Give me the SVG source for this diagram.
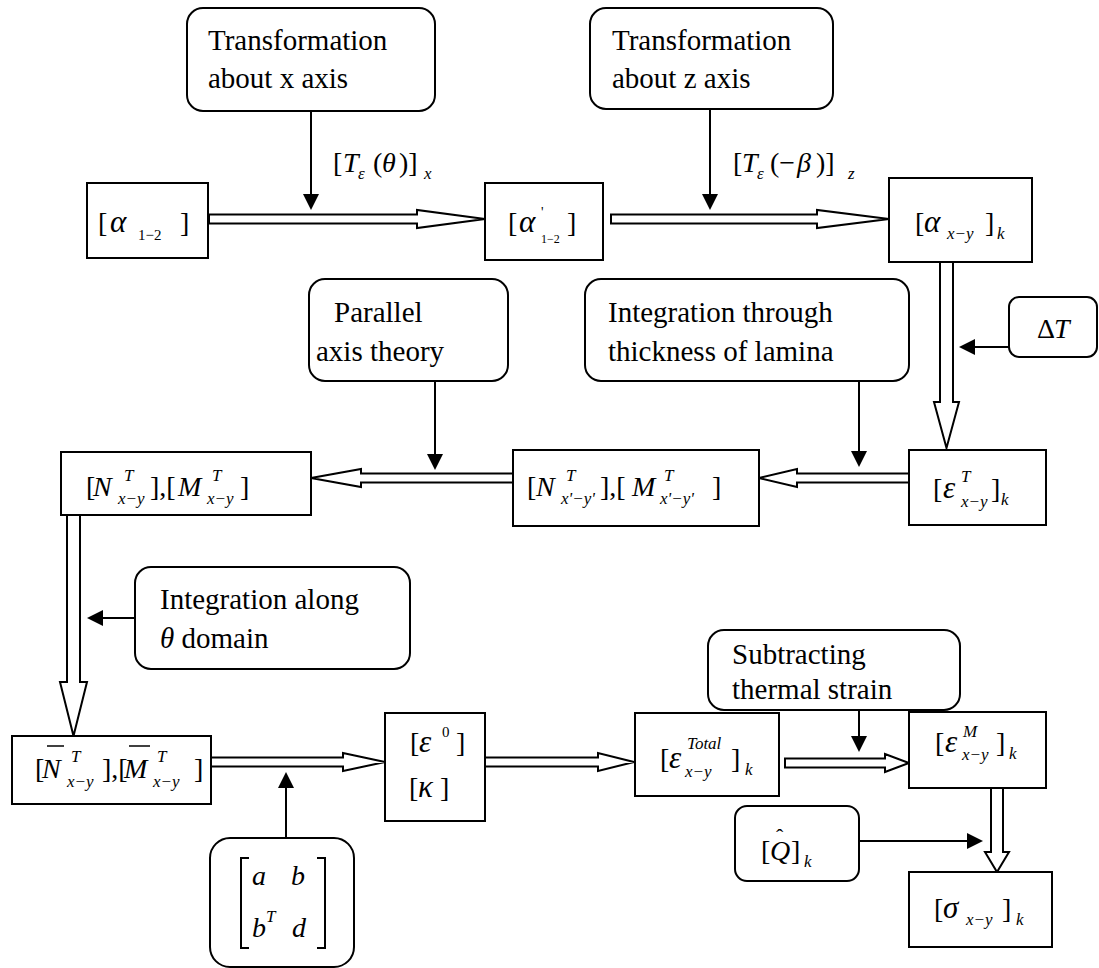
<svg xmlns="http://www.w3.org/2000/svg" width="1099" height="968" viewBox="0 0 1099 968">
<style>
.box{fill:#fff;stroke:#000;stroke-width:2}
.con{stroke:#000;stroke-width:2;fill:none}
.ha{fill:#fff;stroke:#000;stroke-width:2;stroke-linejoin:miter}
text{font-family:"Liberation Serif","Times New Roman",serif;font-size:28px;fill:#000}
.w{font-size:29px}
.i{font-style:italic}
.g{font-style:italic;font-size:31px}
.s{font-style:italic;font-size:17px}
.u{font-size:15px}
.tiny{font-size:12px}
.pr{font-size:14px}
.hat{font-size:22px}
</style>
<defs>
<marker id="ah" markerUnits="userSpaceOnUse" markerWidth="16" markerHeight="16" refX="10" refY="8" orient="auto">
<path d="M0,0 L16,8 L0,16 z" fill="#000"/>
</marker>
</defs>

<g id="connectors">
<polygon class="ha" points="209,214.5 417,214.5 417,210 485,219 417,228 417,223.5 209,223.5"/>
<polygon class="ha" points="611,214.5 817,214.5 817,210 889,219 817,228 817,223.5 611,223.5"/>
<polygon class="ha" points="940,262 953,262 953,402 959,402 946.5,448 934,402 940,402"/>
<polygon class="ha" points="909,473.5 797,473.5 797,469 759,478 797,487 797,482.5 909,482.5"/>
<polygon class="ha" points="513,473.5 361,473.5 361,469 311,478 361,487 361,482.5 513,482.5"/>
<polygon class="ha" points="67,515 80,515 80,682 87,682 73.5,736 60,682 67,682"/>
<polygon class="ha" points="211,757.5 343,757.5 343,753 385,762 343,771 343,766.5 211,766.5"/>
<polygon class="ha" points="485,757.5 598,757.5 598,753 634,762 598,771 598,766.5 485,766.5"/>
<polygon class="ha" points="785,758.5 885,758.5 885,754 909,763 885,772 885,767.5 785,767.5"/>
<polygon class="ha" points="991,788 1003,788 1003,852 1009,852 997,872 985,852 991,852"/>
<line class="con" x1="311" y1="111" x2="311" y2="204" marker-end="url(#ah)"/>
<line class="con" x1="710" y1="109" x2="710" y2="204" marker-end="url(#ah)"/>
<line class="con" x1="1009" y1="347" x2="965" y2="347" marker-end="url(#ah)"/>
<line class="con" x1="859" y1="381" x2="859" y2="461" marker-end="url(#ah)"/>
<line class="con" x1="435" y1="381" x2="435" y2="464" marker-end="url(#ah)"/>
<line class="con" x1="135" y1="618" x2="93" y2="618" marker-end="url(#ah)"/>
<line class="con" x1="286" y1="838" x2="286" y2="778" marker-end="url(#ah)"/>
<line class="con" x1="859" y1="710" x2="859" y2="746" marker-end="url(#ah)"/>
<line class="con" x1="859" y1="841" x2="977" y2="841" marker-end="url(#ah)"/>
</g>

<g id="trans-x">
<rect class="box" x="187" y="8" width="248" height="103" rx="16"/>
<text class="w" x="208" y="50">Transformation</text>
<text class="w" x="208" y="88">about x axis</text>
</g>
<g id="trans-z">
<rect class="box" x="590" y="8" width="243" height="101" rx="16"/>
<text class="w" x="612" y="50">Transformation</text>
<text class="w" x="612" y="88">about z axis</text>
</g>
<g id="label-tx">
<text x="333" y="172">[</text><text class="i" x="343" y="172">T</text><text class="s" x="358" y="179">ε</text>
<text x="373" y="172">(</text><text class="i" x="382" y="172">θ</text><text x="399" y="172">)]</text><text class="s" x="424" y="179">x</text>
</g>
<g id="label-tz">
<text x="733" y="172">[</text><text class="i" x="742" y="172">T</text><text class="s" x="757" y="179">ε</text>
<text x="770" y="172">(−</text><text class="i" x="797" y="172">β</text><text x="816" y="172">)]</text><text class="s" x="848" y="179">z</text>
</g>

<g id="alpha12">
<rect class="box" x="87" y="183" width="121" height="75"/>
<text x="98" y="232">[</text><text class="g" x="110" y="232">α</text><text class="u" x="138" y="240">1−2</text><text x="180" y="232">]</text>
</g>
<g id="alpha12p">
<rect class="box" x="485" y="183" width="118" height="77"/>
<text x="508" y="232">[</text><text class="g" x="519" y="232">α</text><text class="pr" x="541" y="217">'</text><text class="tiny" x="541" y="243">1−2</text><text x="567" y="232">]</text>
</g>
<g id="alphaxy">
<rect class="box" x="889" y="178" width="143" height="84"/>
<text x="915" y="232">[</text><text class="g" x="924" y="232">α</text><text class="s" x="947" y="239">x−y</text><text x="985" y="232">]</text><text class="s" x="997" y="239">k</text>
</g>

<g id="deltaT">
<rect class="box" x="1009" y="297" width="88" height="60" rx="10"/>
<text x="1037" y="338">Δ</text><text class="i" x="1054" y="338">T</text>
</g>
<g id="integ-thick">
<rect class="box" x="585" y="279" width="324" height="102" rx="16"/>
<text class="w" x="608" y="322">Integration through</text>
<text class="w" x="608" y="361">thickness of lamina</text>
</g>
<g id="parallel">
<rect class="box" x="309" y="279" width="199" height="102" rx="16"/>
<text class="w" x="334" y="322">Parallel</text>
<text class="w" x="316" y="361">axis theory</text>
</g>
<g id="epsT">
<rect class="box" x="909" y="450" width="137" height="75"/>
<text x="933" y="498">[</text><text class="g" x="943" y="498">ε</text><text class="s" x="961" y="482">T</text><text class="s" x="961" y="507">x−y</text><text x="991" y="498">]</text><text class="s" x="1001" y="505">k</text>
</g>
<g id="NMp">
<rect class="box" x="513" y="450" width="246" height="76"/>
<text x="527" y="496">[</text><text class="i" x="536" y="496">N</text><text class="s" x="566" y="481">T</text><text class="s" x="561" y="504">x'−y'</text><text x="600" y="496">],[</text>
<text class="i" x="632" y="496">M</text><text class="s" x="664" y="481">T</text><text class="s" x="660" y="504">x'−y'</text><text x="712" y="496">]</text>
</g>
<g id="NM">
<rect class="box" x="61" y="452" width="250" height="63"/>
<text x="86" y="496">[</text><text class="i" x="93" y="496">N</text><text class="s" x="124" y="481">T</text><text class="s" x="118" y="504">x−y</text><text x="150" y="496">],[</text>
<text class="i" x="178" y="496">M</text><text class="s" x="212" y="481">T</text><text class="s" x="207" y="504">x−y</text><text x="240" y="496">]</text>
</g>

<g id="integ-along">
<rect class="box" x="135" y="567" width="275" height="102" rx="16"/>
<text class="w" x="160" y="609">Integration along</text>
<text class="w" x="160" y="648"><tspan class="i">θ</tspan> domain</text>
</g>
<g id="subtract">
<rect class="box" x="708" y="630" width="252" height="80" rx="16"/>
<text class="w" x="732" y="664">Subtracting</text>
<text class="w" x="732" y="699">thermal strain</text>
</g>

<g id="NMbar">
<rect class="box" x="12" y="736" width="199" height="68"/>
<text x="35" y="778">[</text><text class="i" x="42" y="778">N</text><line x1="47" y1="746" x2="64" y2="746" stroke="#000" stroke-width="1.5"/><text class="s" x="71" y="762">T</text><text class="s" x="67" y="787">x−y</text><text x="102" y="778">],[</text>
<text class="i" x="124" y="778">M</text><line x1="129" y1="746" x2="150" y2="746" stroke="#000" stroke-width="1.5"/><text class="s" x="157" y="762">T</text><text class="s" x="153" y="787">x−y</text><text x="194" y="778">]</text>
</g>
<g id="eps0kappa">
<rect class="box" x="385" y="713" width="100" height="108"/>
<text x="410" y="752">[</text><text class="g" x="419" y="752">ε</text><text class="u" x="442" y="737">0</text><text x="456" y="752">]</text>
<text x="409" y="797">[</text><text class="g" x="418" y="797">κ</text><text x="440" y="797">]</text>
</g>
<g id="abd">
<rect class="box" x="210" y="838" width="144" height="129" rx="20"/>
<polyline class="con" stroke-width="1.5" points="249,858 241,858 241,948 249,948"/>
<polyline class="con" stroke-width="1.5" points="317,858 325,858 325,948 317,948"/>
<text class="i" x="252" y="885">a</text><text class="i" x="291" y="885">b</text>
<text class="i" x="252" y="937">b</text><text class="s" x="266" y="922">T</text><text class="i" x="292" y="937">d</text>
</g>
<g id="epsTotal">
<rect class="box" x="635" y="713" width="144" height="83"/>
<text x="660" y="768">[</text><text class="g" x="669" y="768">ε</text><text class="s" x="687" y="749">Total</text><text class="s" x="685" y="777">x−y</text><text x="731" y="768">]</text><text class="s" x="745" y="775">k</text>
</g>
<g id="epsM">
<rect class="box" x="909" y="712" width="137" height="76"/>
<text x="935" y="752">[</text><text class="g" x="945" y="752">ε</text><text class="s" x="963" y="737">M</text><text class="s" x="962" y="760">x−y</text><text x="996" y="752">]</text><text class="s" x="1009" y="759">k</text>
</g>
<g id="Qhat">
<rect class="box" x="735" y="806" width="124" height="75" rx="12"/>
<text x="761" y="860">[</text><text class="i" x="770" y="860">Q</text><text class="hat" x="776" y="844">ˆ</text><text x="791" y="860">]</text><text class="s" x="804" y="867">k</text>
</g>
<g id="sigma">
<rect class="box" x="909" y="872" width="143" height="75"/>
<text x="934" y="918">[</text><text class="g" x="943" y="918">σ</text><text class="s" x="966" y="925">x−y</text><text x="1002" y="918">]</text><text class="s" x="1016" y="925">k</text>
</g>
</svg>
